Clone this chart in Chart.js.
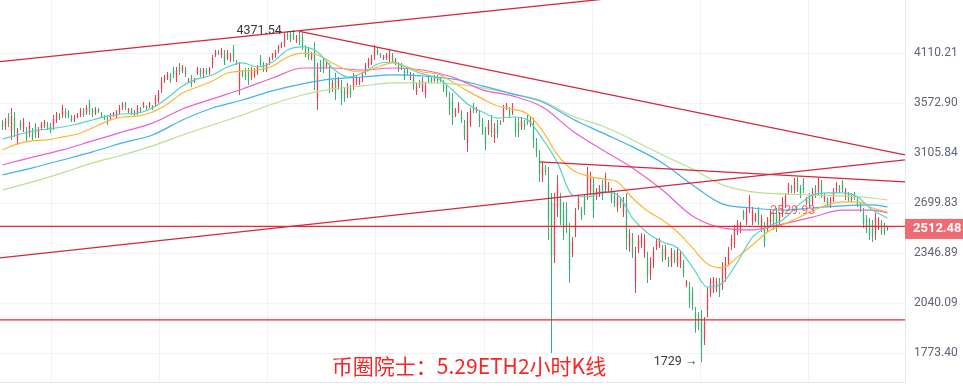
<!DOCTYPE html>
<html>
<head>
<meta charset="utf-8">
<script src="https://cdn.jsdelivr.net/npm/chart.js@4.4.0/dist/chart.umd.min.js"></script>
<style>
  html, body { margin: 0; padding: 0; background: #fff; }
</style>
</head>
<body>
<canvas id="myChart" width="963" height="386"></canvas>
<script>
// ETH 2h candles (oldest first)
var opens = [
3385,3345,3445,3300,3430,3220,3385,3330,3310,3285,
3305,3345,3265,3335,3350,3370,3355,3350,3405,3460,
3460,3500,3485,3440,3405,3440,3460,3505,3480,3570,
3505,3475,3515,3475,3445,3435,3425,3450,3445,3480,
3525,3565,3490,3510,3490,3480,3525,3540,3545,3540,
3545,3565,3605,3720,3805,3835,3865,3925,3830,3970,
3910,3930,3795,3840,3795,3890,3920,3870,3925,3890,
3980,4085,4135,4085,4110,4060,4035,4160,4020,3740,
3905,3915,3900,3845,3860,3895,4060,3985,3925,4000,
4055,4080,4135,4190,4225,4340,4335,4330,4255,4330,
4300,4175,4140,4055,4120,3620,4000,4025,3960,3920,
3720,3820,3740,3750,3695,3665,3730,3750,3790,3780,
3820,3900,3970,4005,4075,4150,4100,4045,4050,4045,
4085,3995,3985,3980,3915,3925,3835,3845,3690,3795,
3725,3665,3850,3830,3810,3850,3835,3785,3730,3630,
3600,3455,3500,3475,3360,3200,3385,3550,3490,3465,
3390,3290,3300,3405,3240,3365,3400,3430,3520,3510,
3485,3395,3385,3345,3385,3435,3365,3360,3200,3070,
2905,2985,2850,2720,2330,2660,2730,2650,2660,2480,
2350,2500,2670,2650,2730,2780,2800,2850,2745,2765,
2845,2815,2800,2790,2760,2670,2730,2635,2700,2390,
2450,2170,2375,2405,2350,2310,2210,2280,2385,2395,
2375,2325,2310,2285,2350,2285,2275,2280,2145,2130,
2105,1990,1970,1960,1845,2000,2100,2120,2120,2165,
2150,2200,2295,2390,2410,2490,2500,2635,2565,2655,
2565,2575,2650,2515,2525,2515,2560,2610,2625,2560,
2630,2690,2785,2830,2805,2880,2820,2870,2700,2755,
2715,2820,2790,2850,2725,2730,2680,2730,2800,2830,
2860,2745,2770,2725,2775,2730,2685,2630,2585,2550,
2540,2470,2525,2555,2535,2505
];
var highs = [
3409,3428,3476,3526,3486,3334,3409,3428,3343,3390,
3334,3380,3343,3390,3409,3390,3380,3457,3486,3476,
3556,3526,3506,3457,3457,3476,3526,3526,3556,3606,
3526,3536,3526,3486,3457,3457,3476,3486,3506,3556,
3586,3586,3526,3526,3506,3556,3536,3586,3556,3586,
3556,3657,3709,3846,3868,3900,3889,3955,3955,4000,
3978,3955,3835,3868,3835,3955,3944,3944,3944,3955,
4090,4148,4148,4172,4148,4148,4113,4207,4034,4011,
3922,3944,3944,3955,3944,3978,4090,4011,4000,4068,
4113,4148,4207,4242,4363,4363,4363,4351,4327,4371.54,
4350,4207,4172,4125,4242,4000,4034,4068,4011,4000,
3814,3889,3846,3814,3730,3782,3761,3889,3868,3846,
3900,4000,4056,4090,4207,4172,4113,4090,4113,4148,
4113,4056,4011,4000,3944,3944,3900,3889,3782,3814,
3846,3793,3868,3846,3868,3868,3846,3814,3761,3688,
3678,3526,3586,3506,3409,3486,3526,3576,3536,3506,
3428,3343,3409,3457,3380,3409,3409,3556,3576,3536,
3576,3438,3428,3438,3409,3457,3438,3428,3242,3135,
3031,3006,2989,2779,2779,2923,2779,2710,2710,2554,
2456,2664,2763,2672,2763,2989,2948,2906,2818,2842,
2882,2940,2866,2818,2787,2779,2748,2748,2779,2512,
2484,2389,2470,2484,2477,2356,2323,2389,2449,2449,
2402,2402,2323,2382,2369,2389,2369,2303,2178,2166,
2135,2019,1991,2002,1963,2135,2190,2196,2190,2190,
2290,2323,2389,2470,2540,2576,2561,2649,2672,2763,
2672,2627,2672,2612,2561,2597,2649,2634,2664,2634,
2748,2779,2858,2842,2898,2906,2842,2898,2748,2779,
2818,2842,2898,2882,2779,2748,2748,2818,2866,2842,
2882,2818,2787,2779,2787,2748,2702,2664,2612,2590,
2576,2627,2597,2576,2554,2535
];
var lows = [
3315,3315,3343,3224,3251,3179,3315,3297,3206,3251,
3224,3242,3242,3315,3334,3315,3288,3315,3380,3409,
3428,3428,3428,3390,3390,3428,3438,3438,3457,3457,
3438,3457,3476,3428,3409,3362,3409,3438,3428,3457,
3506,3506,3476,3457,3438,3457,3486,3526,3506,3526,
3506,3536,3576,3678,3782,3814,3782,3835,3793,3868,
3889,3846,3782,3740,3782,3868,3846,3846,3868,3868,
3944,4068,4090,4056,3978,4034,4011,4011,3978,3657,
3846,3814,3761,3814,3835,3868,3955,3900,3900,3978,
4034,4056,4113,4172,4184,4266,4242,4266,4230,4207,
4148,4068,4034,4034,3709,3506,3900,3889,3944,3678,
3688,3606,3709,3556,3586,3627,3627,3709,3761,3761,
3793,3868,3944,3978,4034,4090,4056,4034,4034,4011,
4000,3978,3900,3922,3814,3868,3814,3709,3657,3730,
3688,3627,3782,3782,3793,3782,3793,3688,3637,3457,
3362,3438,3476,3380,3224,3118,3343,3476,3476,3343,
3269,3135,3269,3251,3197,3242,3362,3390,3506,3428,
3457,3251,3251,3315,3315,3362,3343,3153,3074,2866,
2866,2923,2436,1775,2284,2597,2540,2436,2484,2160,
2323,2456,2649,2576,2612,2725,2763,2590,2725,2748,
2725,2779,2779,2702,2672,2634,2664,2597,2369,2356,
2316,2099,2349,2382,2316,2159,2178,2252,2369,2382,
2290,2303,2258,2258,2284,2258,2252,2196,2135,2013,
2002,1878,1893,1729,1815,1963,2076,2099,2105,2076,
2117,2166,2271,2369,2382,2470,2484,2576,2540,2627,
2540,2561,2540,2491,2389,2491,2540,2505,2491,2540,
2597,2664,2763,2779,2779,2787,2740,2779,2687,2664,
2687,2740,2763,2740,2710,2672,2664,2710,2779,2779,
2787,2725,2710,2710,2725,2672,2634,2519,2484,2436,
2422,2436,2505,2470,2470,2500
];
var closes = [
3340,3400,3375,3450,3310,3295,3340,3395,3240,3355,
3250,3275,3320,3370,3390,3335,3310,3420,3460,3425,
3525,3450,3445,3405,3440,3465,3505,3460,3530,3495,
3460,3515,3490,3440,3420,3385,3460,3475,3490,3530,
3565,3525,3515,3475,3455,3530,3500,3570,3520,3575,
3520,3630,3680,3805,3850,3880,3810,3865,3915,3900,
3955,3870,3820,3770,3825,3935,3870,3920,3885,3935,
4055,4130,4100,4145,4015,4120,4090,4060,3990,3925,
3865,3845,3805,3920,3920,3950,3985,3925,3975,4045,
4095,4125,4185,4225,4320,4290,4270,4285,4300,4240,
4190,4095,4065,4100,3830,3880,3930,3930,3995,3760,
3785,3675,3815,3620,3620,3745,3660,3845,3840,3825,
3875,3970,4030,4065,4165,4110,4070,4075,4095,4115,
4025,4040,3925,3940,3845,3885,3880,3750,3750,3750,
3805,3750,3800,3795,3850,3800,3805,3715,3665,3510,
3430,3505,3560,3410,3265,3400,3480,3500,3520,3385,
3310,3185,3375,3300,3335,3285,3370,3515,3560,3455,
3545,3295,3295,3410,3340,3385,3415,3220,3115,2930,
2990,2945,2570,2330,2700,2850,2590,2500,2530,2240,
2425,2620,2740,2600,2640,2930,2900,2650,2795,2820,
2760,2905,2845,2730,2700,2745,2685,2710,2450,2480,
2350,2320,2440,2460,2440,2200,2290,2360,2430,2435,
2315,2380,2270,2355,2300,2360,2345,2220,2170,2045,
2030,1905,1915,1800,1930,2100,2165,2175,2170,2100,
2260,2290,2365,2450,2510,2555,2545,2590,2650,2740,
2650,2615,2565,2590,2420,2575,2630,2530,2525,2615,
2715,2755,2840,2795,2870,2810,2760,2805,2735,2690,
2790,2760,2870,2770,2765,2690,2730,2795,2850,2795,
2805,2800,2725,2765,2740,2690,2650,2550,2510,2470,
2460,2590,2575,2495,2495,2512.48
];

// moving averages, read every 5th candle (fast) / every 10th candle (slow)
var maIdx = [0,5,10,15,20,25,30,35,40,45,50,55,60,65,70,75,80,85,90,95,
  100,105,110,115,120,125,130,135,140,145,150,155,160,165,170,175,180,185,190,195,
  200,205,210,215,220,225,230,235,240,245,250,255,260,265,270,275,280,285,290,295];
var maCyan = [3233,3269,3306,3324,3343,3371,3409,3447,3467,3476,
  3526,3627,3751,3825,3868,3955,4000,3955,4011,4148,
  4184,4125,3944,3846,3889,3989,4011,3944,3879,3835,
  3709,3566,3486,3428,3438,3409,3233,3023,2763,2748,
  2787,2763,2590,2484,2422,2382,2258,2135,2159,2290,
  2456,2526,2576,2680,2763,2779,2779,2748,2649,2590];
var maOrange = [3135,3188,3215,3224,3251,3278,3334,3399,3438,3447,
  3486,3566,3678,3740,3803,3889,3911,3922,3966,4068,
  4113,4090,4000,3922,3900,3955,4000,3955,3900,3879,
  3793,3699,3617,3546,3516,3467,3306,3091,2964,2915,
  2890,2866,2740,2642,2576,2491,2382,2277,2252,2323,
  2402,2491,2540,2590,2642,2687,2710,2710,2664,2634];
var maIdxSlow = [0,10,20,30,40,50,60,70,80,90,100,110,120,130,140,150,
  160,170,180,190,200,210,220,230,240,250,260,270,280,290,295];
var maPink = [3006,3073,3135,3215,3297,3380,3516,3617,3719,3835,
  3944,3944,3922,3944,3922,3846,3709,3647,3536,3306,
  3135,2981,2802,2605,2519,2505,2547,2597,2649,2649,2627];
var maBlue = [2923,2981,3048,3118,3197,3269,3409,3526,3606,3699,
  3772,3825,3846,3868,3857,3825,3751,3668,3586,3419,
  3288,3162,3023,2842,2695,2664,2649,2664,2680,2687,2672];
var maLime = [2802,2866,2940,3023,3091,3171,3269,3362,3457,3566,
  3657,3719,3751,3782,3782,3772,3730,3668,3596,3447,
  3352,3224,3091,2972,2842,2787,2771,2763,2756,2740,2725];

// drawn lines: [candle index, price] end points
var trendUp1 = [[-0.83, 4015], [300.83, 5220]];
var trendDown1 = [[99, 4371.54], [300.83, 3091]];
var trendUp2 = [[-0.83, 2316], [300.83, 3048]];
var trendDown2 = [[179, 3031], [300.83, 2866]];
var hLines = [2529.93, 1947];

var priceTicks = [1773.40, 2040.09, 2346.89, 2699.83, 3105.84, 3572.90, 4110.21, 4728.32];
var lastPrice = 2512.48;
var peak = { i: 99, price: 4371.54 };
var bottom = { i: 233, price: 1729 };
var title = '币圈院士：5.29ETH2小时K线';

var RED = '#e4424f', GREEN = '#3dad76';

function candleColor(c) {
    var i = c.dataIndex;
    return closes[i] >= opens[i] ? RED : GREEN;
}

function pts(xs, ys) {
    var out = [];
    for (var k = 0; k < xs.length; k++) out.push({ x: xs[k], y: ys[k] });
    return out;
}

function seg(p) {
    return [{ x: p[0][0], y: p[0][1] }, { x: p[1][0], y: p[1][1] }];
}

var wicks = [], bodies = [];
for (var i = 0; i < opens.length; i++) {
    wicks.push({ x: i, y: [lows[i], highs[i]] });
    bodies.push({ x: i, y: [opens[i], closes[i]] });
}

function maSet(data, color) {
    return { type: 'line', data: data, borderColor: color, borderWidth: 1.2, pointRadius: 0,
             tension: 0.4, cubicInterpolationMode: 'monotone', fill: false, order: 1 };
}
function lineSet(data, color, w) {
    return { type: 'line', data: data, borderColor: color, borderWidth: w, pointRadius: 0,
             tension: 0, fill: false, order: 0 };
}

var overlay = {
    id: 'overlay',
    afterDatasetsDraw: function(chart) {
        var c = chart.ctx, x = chart.scales.x, y = chart.scales.y;
        c.save();
        c.font = '12.5px Roboto';
        c.fillStyle = 'rgba(240,50,50,0.75)';
        c.textBaseline = 'middle';
        c.textAlign = 'left';
        c.fillText(hLines[0].toFixed(2), x.getPixelForValue(255.8), y.getPixelForValue(hLines[0]) - 16);
        c.restore();
    },
    afterDraw: function(chart) {
        var c = chart.ctx, x = chart.scales.x, y = chart.scales.y;
        c.save();
        c.font = '12.5px Roboto';
        c.fillStyle = '#3a3a3a';
        c.textBaseline = 'middle';
        c.textAlign = 'right';
        c.fillText(peak.price.toFixed(2) + ' \u2192', x.getPixelForValue(peak.i) - 2, y.getPixelForValue(peak.price));
        c.fillText(bottom.price + ' \u2192', x.getPixelForValue(bottom.i) - 4, y.getPixelForValue(bottom.price));

        // last price tag on the axis
        var py = y.getPixelForValue(lastPrice);
        c.fillStyle = '#ef6a72';
        c.fillRect(y.left, py - 10, chart.width - y.left, 20);
        c.fillStyle = '#fff';
        c.font = 'bold 13px Roboto';
        c.textAlign = 'left';
        c.fillText(lastPrice.toFixed(2), y.left + 8, py);

        c.font = '21px "Noto Sans CJK SC"';
        c.fillStyle = '#f82424';
        c.textAlign = 'center';
        c.fillText(title, 469, 366);
        c.restore();
    }
};

var ctx = document.getElementById('myChart').getContext('2d');
var myChart = new Chart(ctx, {
    type: 'bar',
    data: {
        datasets: [
            lineSet(seg(trendUp1), '#d3273d', 1.3),
            lineSet(seg(trendDown1), '#d3273d', 1.3),
            lineSet(seg(trendUp2), '#d3273d', 1.3),
            lineSet(seg(trendDown2), '#d3273d', 1.3),
            lineSet([{ x: -0.83, y: hLines[0] }, { x: 300.83, y: hLines[0] }], '#f5222d', 1.2),
            lineSet([{ x: -0.83, y: hLines[1] }, { x: 300.83, y: hLines[1] }], '#f5222d', 1.2),
            maSet(pts(maIdx, maCyan), '#55d6be'),
            maSet(pts(maIdx, maOrange), '#fcb731'),
            maSet(pts(maIdxSlow, maPink), '#ef60c6'),
            maSet(pts(maIdxSlow, maBlue), '#40b2ef'),
            maSet(pts(maIdxSlow, maLime), '#b9e08f'),
            { type: 'bar', data: bodies, backgroundColor: candleColor, grouped: false,
              maxBarThickness: 1.3, inflateAmount: 0, order: 2 },
            { type: 'bar', data: wicks, backgroundColor: candleColor, grouped: false,
              maxBarThickness: 1, inflateAmount: 0, order: 3 }
        ]
    },
    options: {
        responsive: false,
        animation: false,
        devicePixelRatio: 1,
        layout: { padding: { left: 0, right: 0, top: 0, bottom: 4 } },
        plugins: { legend: { display: false }, tooltip: { enabled: false } },
        scales: {
            x: {
                type: 'linear', min: -0.833, max: 300.833, offset: false,
                grid: { offset: false, color: '#f0f2f5', drawTicks: false },
                border: { color: '#e4e7ec' },
                ticks: { display: false },
                afterBuildTicks: function(s) {
                    s.ticks = [16.5, 52.5, 88.5, 124.5, 160.5, 196.5, 232.5, 268.5].map(function(v) { return { value: v }; });
                }
            },
            y: {
                type: 'logarithmic', position: 'right', min: 1636, max: 4772,
                grid: { color: '#f0f2f5', drawTicks: false },
                border: { color: '#e4e7ec' },
                ticks: {
                    padding: 9, color: '#5d6474', font: { family: 'Roboto', size: 12 },
                    callback: function(v) { return v > 4500 ? null : Number(v).toFixed(2); }
                },
                afterBuildTicks: function(s) {
                    s.ticks = priceTicks.map(function(v) { return { value: v }; });
                },
                afterFit: function(s) {
                    s.width = 58;
                    s.paddingTop = 0;
                    s.paddingBottom = 0;
                }
            }
        }
    },
    plugins: [overlay]
});
</script>
</body>
</html>
